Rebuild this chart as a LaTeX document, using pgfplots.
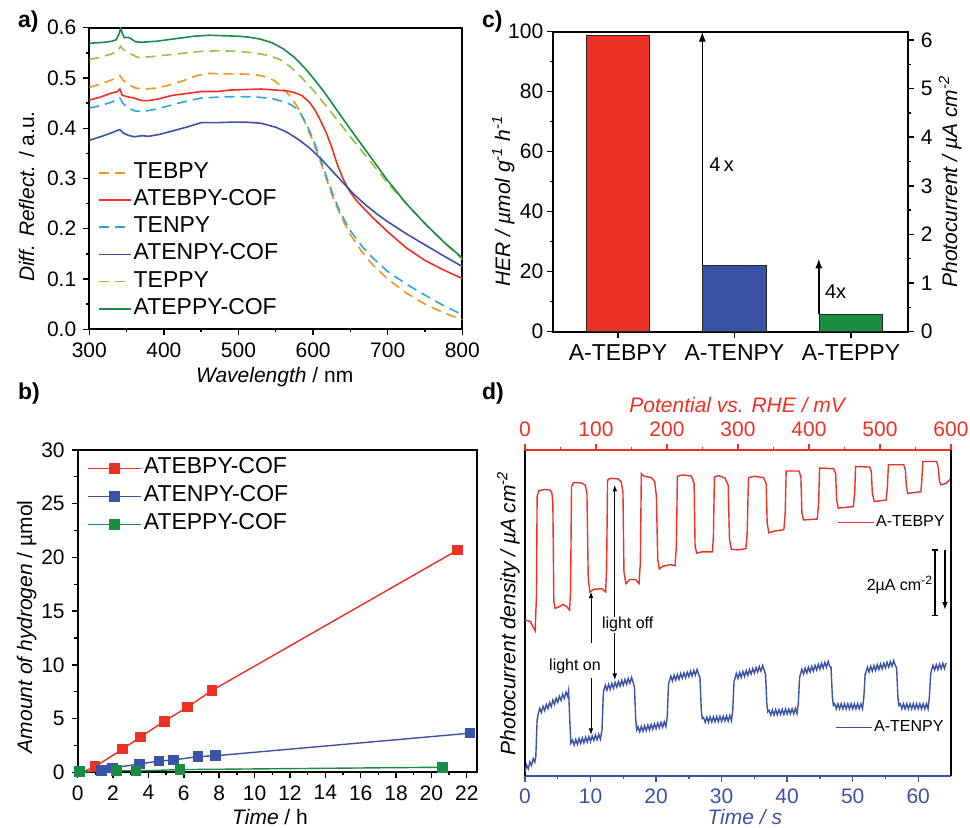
\documentclass[border=0pt]{standalone}
\usepackage{fontspec}
\setmainfont{Liberation Sans}
\usepackage{pgfplots}
\pgfplotsset{compat=1.18}
\usetikzlibrary{arrows.meta}
\definecolor{cRed}{HTML}{EE3124}
\definecolor{cBlue}{HTML}{3A53A4}
\definecolor{cGreen}{HTML}{1B8C44}
\definecolor{cOrange}{HTML}{F7941D}
\definecolor{cLBlue}{HTML}{2BA6DE}
\definecolor{cLGreen}{HTML}{8DC63F}
\pgfplotsset{
  myax/.style={
    scale only axis, anchor=south west,
    tick align=outside,
    major tick length=3pt, minor tick length=1.6pt,
    tick style={line width=0.7pt, black},
    axis line style={line width=0.9pt},
    tick label style={font=\fontsize{10.5}{12}\selectfont},
    label style={font=\fontsize{10.5}{12}\selectfont},
    /pgf/number format/assume math mode=true,
  },
  ylab/.style 2 args={ylabel style={at={(rel axis cs:0,#2)}, anchor=center, yshift=#1}},
  xlab/.style 2 args={xlabel style={at={(rel axis cs:#2,0)}, anchor=center, yshift=-#1}},
  dsh/.style={line width=0.8pt, dash pattern=on 5pt off 3pt},
  sld/.style={line width=0.8pt},
}
\begin{document}
\begin{tikzpicture}
\path[use as bounding box] (0,0) rectangle (485pt,414pt);
%================= a
\begin{axis}[myax, at={(44.65pt,249.35pt)}, width=186.5pt, height=150.8pt,
  xmin=300, xmax=800, ymin=0, ymax=0.6,
  xtick={300,400,500,600,700,800}, minor xtick={350,450,550,650,750},
  ytick={0,0.1,0.2,0.3,0.4,0.5,0.6}, minor ytick={0.05,0.15,0.25,0.35,0.45,0.55},
  xtick pos=left, ytick pos=left,
  yticklabel style={/pgf/number format/.cd, fixed, fixed zerofill, precision=1},
  xlabel={\textit{Wavelength} / nm}, ylabel={\textit{Diff. Reflect.} / a.u.},
  ylab={31.3pt}{0.44}, xlab={23.7pt}{0.497},
  legend style={at={(axis cs:311.7,0.339)}, anchor=north west, draw=none, fill=none,
    inner sep=0pt, row sep=0pt, font=\fontsize{11.5}{13}\selectfont,
    nodes={inner sep=1pt, text height=8.5pt, text depth=3.1pt}},
  legend cell align=left,
  legend image code/.code={\draw[#1] (0pt,0pt) -- (15.8pt,0pt);},
]
\addplot[cOrange, dsh] coordinates {(300,0.481) (315,0.488) (330,0.496) (338,0.502) (341,0.505) (345,0.496) (352,0.487) (362,0.480) (375,0.478) (390,0.480) (405,0.485) (425,0.494) (445,0.505) (460,0.509) (480,0.508) (500,0.508) (520,0.507) (535,0.503) (548,0.495) (558,0.482) (568,0.466) (578,0.445) (588,0.415) (598,0.380) (608,0.342) (618,0.298) (628,0.257) (638,0.222) (650,0.188) (665,0.155) (680,0.128) (700,0.100) (725,0.072) (750,0.050) (775,0.033) (800,0.019)};
\addlegendentry{TEBPY}
\addplot[cRed, sld] coordinates {(300,0.456) (315,0.462) (330,0.470) (338,0.473) (341,0.478) (344,0.466) (350,0.463) (360,0.460) (370,0.455) (380,0.455) (395,0.459) (410,0.465) (430,0.469) (450,0.473) (470,0.473) (490,0.476) (510,0.477) (530,0.478) (550,0.476) (565,0.474) (575,0.471) (585,0.465) (595,0.452) (603,0.435) (610,0.415) (618,0.390) (625,0.362) (632,0.330) (640,0.300) (648,0.277) (656,0.260) (665,0.245) (680,0.222) (700,0.194) (725,0.162) (750,0.137) (775,0.118) (800,0.101)};
\addlegendentry{ATEBPY-COF}
\addplot[cLBlue, dsh] coordinates {(300,0.440) (315,0.445) (330,0.452) (338,0.458) (341,0.460) (345,0.450) (352,0.440) (362,0.434) (375,0.434) (390,0.438) (405,0.444) (425,0.452) (450,0.460) (475,0.462) (500,0.463) (525,0.462) (545,0.459) (560,0.453) (570,0.447) (580,0.437) (590,0.412) (598,0.385) (608,0.347) (618,0.303) (628,0.262) (638,0.228) (650,0.196) (665,0.166) (680,0.142) (700,0.115) (725,0.090) (750,0.068) (775,0.047) (800,0.029)};
\addlegendentry{TENPY}
\addplot[cBlue, sld] coordinates {(300,0.376) (315,0.383) (330,0.391) (338,0.396) (341,0.397) (345,0.391) (352,0.386) (360,0.383) (370,0.385) (380,0.384) (395,0.388) (410,0.394) (430,0.402) (450,0.411) (470,0.411) (490,0.412) (510,0.412) (530,0.410) (550,0.402) (565,0.392) (580,0.378) (595,0.361) (610,0.340) (625,0.316) (640,0.292) (655,0.268) (670,0.248) (685,0.230) (700,0.214) (725,0.190) (750,0.168) (775,0.146) (800,0.125)};
\addlegendentry{ATENPY-COF}
\addplot[cLGreen, dsh] coordinates {(300,0.537) (315,0.541) (330,0.548) (338,0.553) (342,0.563) (346,0.556) (355,0.548) (365,0.541) (380,0.542) (400,0.545) (425,0.549) (450,0.553) (475,0.554) (500,0.553) (520,0.550) (540,0.545) (555,0.537) (570,0.522) (585,0.500) (600,0.476) (615,0.449) (630,0.421) (650,0.383) (675,0.337) (700,0.291) (725,0.250) (750,0.211) (775,0.174) (800,0.139)};
\addlegendentry{TEPPY}
\addplot[cGreen, sld] coordinates {(300,0.569) (310,0.570) (320,0.571) (330,0.573) (336,0.576) (340,0.588) (342,0.600) (344,0.590) (347,0.580) (352,0.581) (356,0.578) (362,0.572) (370,0.571) (380,0.572) (390,0.573) (400,0.575) (420,0.579) (440,0.583) (460,0.585) (480,0.584) (500,0.583) (515,0.581) (530,0.577) (545,0.570) (560,0.558) (575,0.541) (590,0.518) (600,0.500) (615,0.472) (630,0.440) (650,0.398) (675,0.347) (700,0.296) (725,0.250) (750,0.210) (775,0.174) (800,0.142)};
\addlegendentry{ATEPPY-COF}
\end{axis}
%================= b
\begin{axis}[myax, at={(38.85pt,27.85pt)}, width=199.5pt, height=161.2pt,
  xmin=0, xmax=22.56, ymin=0, ymax=30,
  xtick={0,2,...,22}, minor xtick={1,3,...,21},
  ytick={0,5,...,30}, minor ytick={2.5,7.5,12.5,17.5,22.5,27.5},
  xtick pos=left, ytick pos=left,
  xlabel={\textit{Time} / h}, ylabel={\textit{Amount of hydrogen} / µmol},
  ylab={25.5pt}{0.451}, xlab={22.2pt}{0.482},
  legend style={at={(axis cs:0.53,29.6)}, anchor=north west, draw=none, fill=none,
    inner sep=0pt, row sep=0pt, font=\fontsize{11.5}{13}\selectfont,
    nodes={inner sep=1pt, text height=8.5pt, text depth=3.5pt}},
  legend cell align=left,
  legend image code/.code={\draw[#1] (0pt,0pt) -- (26.5pt,0pt); \path[#1] plot coordinates {(13.25pt,0pt)};},
]
\addplot[cRed, line width=0.7pt, forget plot] coordinates {(0.25,0) (0.98,0.53)};
\addplot[cGreen, line width=0.7pt, forget plot] coordinates {(0.09,0.05) (2.2,0.18)};
\addplot[cBlue, line width=0.7pt, forget plot] coordinates {(0.3,0) (1.35,0.15)};
\addplot[cRed, line width=0.7pt, mark=square*, mark size=2.3pt, mark options={solid, fill=cRed}] coordinates {(0.98,0.53) (2.54,2.15) (3.56,3.3) (4.9,4.75) (6.22,6.08) (7.6,7.62) (21.47,20.67)};
\addlegendentry{ATEBPY-COF}
\addplot[cBlue, line width=0.7pt, mark=square*, mark size=2.3pt, mark options={solid, fill=cBlue}] coordinates {(1.35,0.15) (1.98,0.4) (3.5,0.78) (4.6,1.05) (5.41,1.15) (6.8,1.46) (7.8,1.54) (22.19,3.64)};
\addlegendentry{ATENPY-COF}
\addplot[cGreen, line width=0.7pt, mark=square*, mark size=2.3pt, mark options={solid, fill=cGreen}] coordinates {(0.09,0.05) (2.2,0.18) (3.3,0.12) (5.79,0.25) (20.62,0.47)};
\addlegendentry{ATEPPY-COF}
\end{axis}
%================= c
\begin{axis}[myax, at={(276.65pt,248.15pt)}, width=177.2pt, height=150pt,
  xmin=-0.555, xmax=2.487, ymin=0, ymax=100,
  xtick={0,1,2}, xticklabels={A-TEBPY,A-TENPY,A-TEPPY},
  xticklabel style={font=\fontsize{11.5}{13}\selectfont},
  yticklabel style={xshift=1.5pt},
  ytick={0,20,40,60,80,100}, minor ytick={10,30,50,70,90},
  xtick pos=left, ytick pos=left,
  ylabel={\textit{HER / µmol g\textsuperscript{-1} h\textsuperscript{-1}}},
  ylab={25pt}{0.436},
]
\addplot[ybar, bar width=0.547, bar shift=0pt, fill=cRed, draw=black!85, line width=0.5pt] coordinates {(0,98.7)};
\addplot[ybar, bar width=0.547, bar shift=0pt, fill=cBlue, draw=black!85, line width=0.5pt] coordinates {(1,22.1)};
\addplot[ybar, bar width=0.547, bar shift=0pt, fill=cGreen, draw=black!85, line width=0.5pt] coordinates {(2,5.8)};
\draw[-{Latex[length=5pt,width=3.6pt]}, line width=0.8pt] (axis cs:0.724,22.1) -- (axis cs:0.724,100);
\draw[-{Latex[length=5pt,width=3.6pt]}, line width=0.8pt] (axis cs:1.724,5.8) -- (axis cs:1.724,24.4);
\node[font=\fontsize{10}{12}\selectfont] at (axis cs:0.89,55.6) {4\,x};
\node[font=\fontsize{10}{12}\selectfont] at (axis cs:1.868,13.3) {4x};
\end{axis}
\begin{axis}[myax, at={(276.65pt,248.15pt)}, width=177.2pt, height=150pt,
  xmin=-0.555, xmax=2.487, ymin=0, ymax=6.17,
  axis x line=none, axis y line*=right, y axis line style={-},
  ytick={0,1,2,3,4,5,6}, minor ytick={0.5,1.5,2.5,3.5,4.5,5.5},
  ylabel={\textit{Photocurrent / µA cm\textsuperscript{-2}}},
  ylabel style={at={(rel axis cs:1,0.5)}, anchor=center, yshift=-21.2pt},
]
\addplot[draw=none] coordinates {(0,0)};
\end{axis}
%================= d
\begin{axis}[myax, at={(262.5pt,26pt)}, width=213pt, height=163pt,
  xmin=0, xmax=65, ymin=0, ymax=9.92,
  axis x line*=bottom, axis y line*=left, x axis line style={-, cBlue}, y axis line style={-},
  ytick=\empty, xtick={0,10,...,60}, minor xtick={5,15,...,55},
  xtick style={cBlue}, xticklabel style={text=cBlue}, xlabel style={text=cBlue},
  xlabel={\textit{Time / s}},
  ylabel={\textit{Photocurrent density / µA cm\textsuperscript{-2}}},
  ylab={8.3pt}{0.5}, xlab={20.3pt}{0.516},
  legend style={at={(axis cs:47.26,1.47)}, anchor=west, draw=none, fill=none,
    inner sep=0pt, font=\fontsize{8}{10}\selectfont, nodes={inner sep=0.5pt}},
  legend image code/.code={\draw[#1] (0pt,0pt) -- (18.3pt,0pt);},
]
\addplot[cBlue, line width=0.7pt] coordinates {
(0,0.12) (0.25,0.33) (0.5,0.22) (0.75,0.43) (1.0,0.32) (1.25,0.53) (1.5,0.42) (1.65,0.6) (1.85,1.7)
(2.0,1.87) (2.25,2.06) (2.5,1.93) (2.75,2.12) (3.0,1.99) (3.25,2.18) (3.5,2.05) (3.75,2.24) (4.0,2.11) (4.25,2.31) (4.5,2.18) (4.75,2.37) (5.0,2.24) (5.25,2.43) (5.5,2.30) (5.75,2.49) (6.0,2.36) (6.25,2.55) (6.5,2.42) (6.65,2.6) (6.85,1.6) (7.0,1.0)
(7.25,1.09) (7.5,0.94) (7.75,1.11) (8.0,0.96) (8.25,1.14) (8.5,0.99) (8.75,1.16) (9.0,1.01) (9.25,1.18) (9.5,1.03) (9.75,1.20) (10.0,1.05) (10.25,1.22) (10.5,1.08) (10.75,1.25) (11.0,1.10) (11.25,1.27) (11.5,1.12) (11.75,1.4) (11.95,2.5)
(12.0,2.58) (12.25,2.76) (12.5,2.61) (12.75,2.79) (13.0,2.64) (13.25,2.82) (13.5,2.67) (13.75,2.85) (14.0,2.70) (14.25,2.88) (14.5,2.73) (14.75,2.91) (15.0,2.76) (15.25,2.94) (15.5,2.79) (15.75,2.97) (16.0,2.82) (16.25,3.00) (16.5,2.85) (16.7,2.7) (16.9,1.7) (17.05,1.4)
(17.25,1.49) (17.5,1.34) (17.75,1.51) (18.0,1.36) (18.25,1.53) (18.5,1.38) (18.75,1.55) (19.0,1.40) (19.25,1.57) (19.5,1.42) (19.75,1.59) (20.0,1.44) (20.25,1.61) (20.5,1.46) (20.75,1.63) (21.0,1.48) (21.25,1.65) (21.5,1.50) (21.7,1.8) (21.9,2.8)
(22.0,2.87) (22.25,3.04) (22.5,2.89) (22.75,3.07) (23.0,2.92) (23.25,3.09) (23.5,2.94) (23.75,3.12) (24.0,2.97) (24.25,3.14) (24.5,2.99) (24.75,3.16) (25.0,3.02) (25.25,3.19) (25.5,3.04) (25.75,3.21) (26.0,3.07) (26.25,3.24) (26.5,3.09) (26.7,3.0) (26.9,2.0) (27.05,1.75)
(27.25,1.78) (27.5,1.63) (27.75,1.79) (28.0,1.63) (28.25,1.80) (28.5,1.64) (28.75,1.80) (29.0,1.65) (29.25,1.81) (29.5,1.65) (29.75,1.82) (30.0,1.66) (30.25,1.82) (30.5,1.67) (30.75,1.83) (31.0,1.67) (31.25,1.84) (31.5,1.68) (31.7,2.0) (31.9,2.9)
(32.0,2.94) (32.25,3.12) (32.5,2.97) (32.75,3.15) (33.0,3.00) (33.25,3.18) (33.5,3.03) (33.75,3.21) (34.0,3.06) (34.25,3.24) (34.5,3.10) (34.75,3.27) (35.0,3.13) (35.25,3.30) (35.5,3.16) (35.75,3.33) (36.0,3.19) (36.25,3.36) (36.5,3.22) (36.7,3.1) (36.9,2.2) (37.05,1.95)
(37.25,2.00) (37.5,1.85) (37.75,2.01) (38.0,1.85) (38.25,2.02) (38.5,1.86) (38.75,2.02) (39.0,1.87) (39.25,2.03) (39.5,1.87) (39.75,2.04) (40.0,1.88) (40.25,2.04) (40.5,1.89) (40.75,2.05) (41.0,1.89) (41.25,2.06) (41.5,1.90) (41.7,2.2) (41.9,3.0)
(42.0,3.07) (42.25,3.25) (42.5,3.10) (42.75,3.28) (43.0,3.13) (43.25,3.31) (43.5,3.16) (43.75,3.34) (44.0,3.19) (44.25,3.37) (44.5,3.22) (44.75,3.40) (45.0,3.25) (45.25,3.43) (45.5,3.28) (45.75,3.46) (46.0,3.31) (46.25,3.49) (46.5,3.34) (46.7,3.3) (46.9,2.4) (47.05,2.15)
(47.25,2.20) (47.5,2.04) (47.75,2.20) (48.0,2.04) (48.25,2.20) (48.5,2.04) (48.75,2.20) (49.0,2.04) (49.25,2.20) (49.5,2.04) (49.75,2.20) (50.0,2.04) (50.25,2.20) (50.5,2.04) (50.75,2.20) (51.0,2.04) (51.25,2.20) (51.5,2.04) (51.7,2.4) (51.9,3.1)
(52.0,3.14) (52.25,3.31) (52.5,3.16) (52.75,3.34) (53.0,3.19) (53.25,3.36) (53.5,3.21) (53.75,3.39) (54.0,3.24) (54.25,3.41) (54.5,3.26) (54.75,3.43) (55.0,3.29) (55.25,3.46) (55.5,3.31) (55.75,3.48) (56.0,3.34) (56.25,3.51) (56.5,3.36) (56.7,3.3) (56.9,2.4) (57.05,2.15)
(57.25,2.20) (57.5,2.04) (57.75,2.20) (58.0,2.04) (58.25,2.20) (58.5,2.04) (58.75,2.20) (59.0,2.04) (59.25,2.20) (59.5,2.04) (59.75,2.20) (60.0,2.04) (60.25,2.20) (60.5,2.04) (60.75,2.20) (61.0,2.04) (61.25,2.20) (61.5,2.04) (61.7,2.4) (61.9,3.1)
(62.0,3.20) (62.25,3.37) (62.5,3.22) (62.75,3.39) (63.0,3.24) (63.25,3.41) (63.5,3.26) (63.75,3.43) (64.0,3.27) (64.25,3.44)};
\addlegendentry{A-TENPY}
% annotations
\draw[-{Latex[length=3.3pt,width=2.4pt]}, line width=0.5pt] (axis cs:10.07,4.04) -- (axis cs:10.07,5.61);
\draw[-{Latex[length=3.3pt,width=2.4pt]}, line width=0.5pt] (axis cs:10.07,2.97) -- (axis cs:10.07,1.25);
\draw[-{Latex[length=3.3pt,width=2.4pt]}, line width=0.5pt] (axis cs:13.7,4.85) -- (axis cs:13.7,8.86);
\draw[-{Latex[length=3.3pt,width=2.4pt]}, line width=0.5pt] (axis cs:13.7,4.34) -- (axis cs:13.7,2.92);
\node[font=\fontsize{8}{10}\selectfont] at (axis cs:7.63,3.35) {light on};
\node[font=\fontsize{8}{10}\selectfont] at (axis cs:15.67,4.61) {light off};
\draw[line width=0.7pt] (axis cs:62.56,6.88) -- (axis cs:62.56,4.88);
\draw[line width=0.7pt] (axis cs:62.03,6.88) -- (axis cs:63.09,6.88);
\draw[line width=0.7pt] (axis cs:62.03,4.88) -- (axis cs:63.09,4.88);
\draw[-{Latex[length=4pt,width=2.8pt]}, line width=0.7pt] (axis cs:64.08,6.88) -- (axis cs:64.08,5.05);
\node[font=\fontsize{8}{10}\selectfont] at (axis cs:57.2,5.81) {2µA cm\textsuperscript{-2}};
\end{axis}
\begin{axis}[myax, at={(262.5pt,26pt)}, width=213pt, height=163pt,
  xmin=0, xmax=65, ymin=0, ymax=9.92, hide axis,
  legend style={at={(axis cs:47.56,7.71)}, anchor=west, draw=none, fill=none,
    inner sep=0pt, font=\fontsize{8}{10}\selectfont, nodes={inner sep=0.5pt}},
  legend image code/.code={\draw[#1] (0pt,0pt) -- (18.3pt,0pt);},
]
\addplot[cRed, line width=0.7pt] coordinates {(0,4.75) (0.8,4.7) (1.2,4.55) (1.55,4.42) (1.75,5.5) (1.85,8.5) (2.1,8.68) (3,8.72) (3.8,8.7) (4.1,8.62) (4.25,8.3) (4.4,5.3) (4.6,5.1) (5.2,5.15) (5.8,5.22) (6.4,5.15) (6.8,5.05) (6.95,5.6) (7.1,8.8) (7.4,8.93) (8.6,8.92) (9.2,8.85) (9.45,8.6) (9.65,6.0) (9.9,5.6) (10.5,5.68) (11.7,5.7) (12.3,5.6) (12.45,6.3) (12.6,9.0) (13,9.06) (14.2,9.04) (14.7,8.95) (14.95,8.6) (15.1,6.2) (15.4,5.85) (16,5.98) (16.9,5.98) (17.4,5.85) (17.6,6.5) (17.75,9.2) (18.2,9.12) (19.3,9.08) (19.8,8.95) (20.05,8.5) (20.25,6.6) (20.5,6.3) (21,6.38) (22.2,6.43) (22.9,6.4) (23.1,7) (23.25,9.12) (24,9.16) (25.4,9.13) (25.8,8.9) (25.95,7.0) (26.2,6.78) (27,6.82) (28.6,6.82) (28.75,7.3) (28.9,9.1) (29.5,9.14) (30.5,9.07) (31,8.85) (31.2,7.2) (31.5,6.9) (32.5,6.88) (33.7,6.92) (33.9,7.4) (34.1,9.08) (35,9.12) (36.4,9.08) (36.8,8.9) (36.95,7.7) (37.2,7.4) (38,7.45) (39.5,7.5) (39.7,8) (39.85,9.28) (41.8,9.28) (42.1,9.1) (42.25,8.0) (42.5,7.79) (44.6,7.82) (44.8,8.3) (44.95,9.37) (47.1,9.35) (47.4,9.2) (47.55,8.4) (47.8,8.15) (50.1,8.2) (50.3,8.6) (50.45,9.42) (52.6,9.4) (52.85,9.25) (53,8.6) (53.3,8.35) (55.1,8.4) (55.3,8.8) (55.45,9.47) (57.8,9.47) (58.05,9.3) (58.2,8.8) (58.4,8.6) (60.4,8.65) (60.55,9.0) (60.7,9.57) (62.8,9.57) (63.05,9.4) (63.25,8.95) (63.5,8.86) (64.2,8.9) (65,9.05)};
\addlegendentry{A-TEBPY}
\end{axis}
\begin{axis}[myax, at={(262.5pt,26pt)}, width=213pt, height=163pt,
  xmin=0, xmax=600, ymin=0, ymax=1,
  axis x line*=top, axis y line*=right, x axis line style={-, cRed}, y axis line style={-, black},
  ytick=\empty, xtick={0,100,...,600}, minor xtick={50,150,...,550},
  xtick style={cRed}, xticklabel style={text=cRed}, xlabel style={text=cRed},
  xlabel={\textit{Potential vs. RHE / mV}},
  xlabel style={at={(rel axis cs:0.5,1)}, anchor=center, yshift=22.5pt},
]
\addplot[draw=none] coordinates {(0,0)};
\end{axis}
%================= panel letters
\node[anchor=base west, font=\bfseries\fontsize{11.5}{13}\selectfont] at (5.5pt,400pt) {a)};
\node[anchor=base west, font=\bfseries\fontsize{11.5}{13}\selectfont] at (5.5pt,214pt) {b)};
\node[anchor=base west, font=\bfseries\fontsize{11.5}{13}\selectfont] at (237.5pt,400pt) {c)};
\node[anchor=base west, font=\bfseries\fontsize{11.5}{13}\selectfont] at (237.5pt,214pt) {d)};
\end{tikzpicture}
\end{document}
